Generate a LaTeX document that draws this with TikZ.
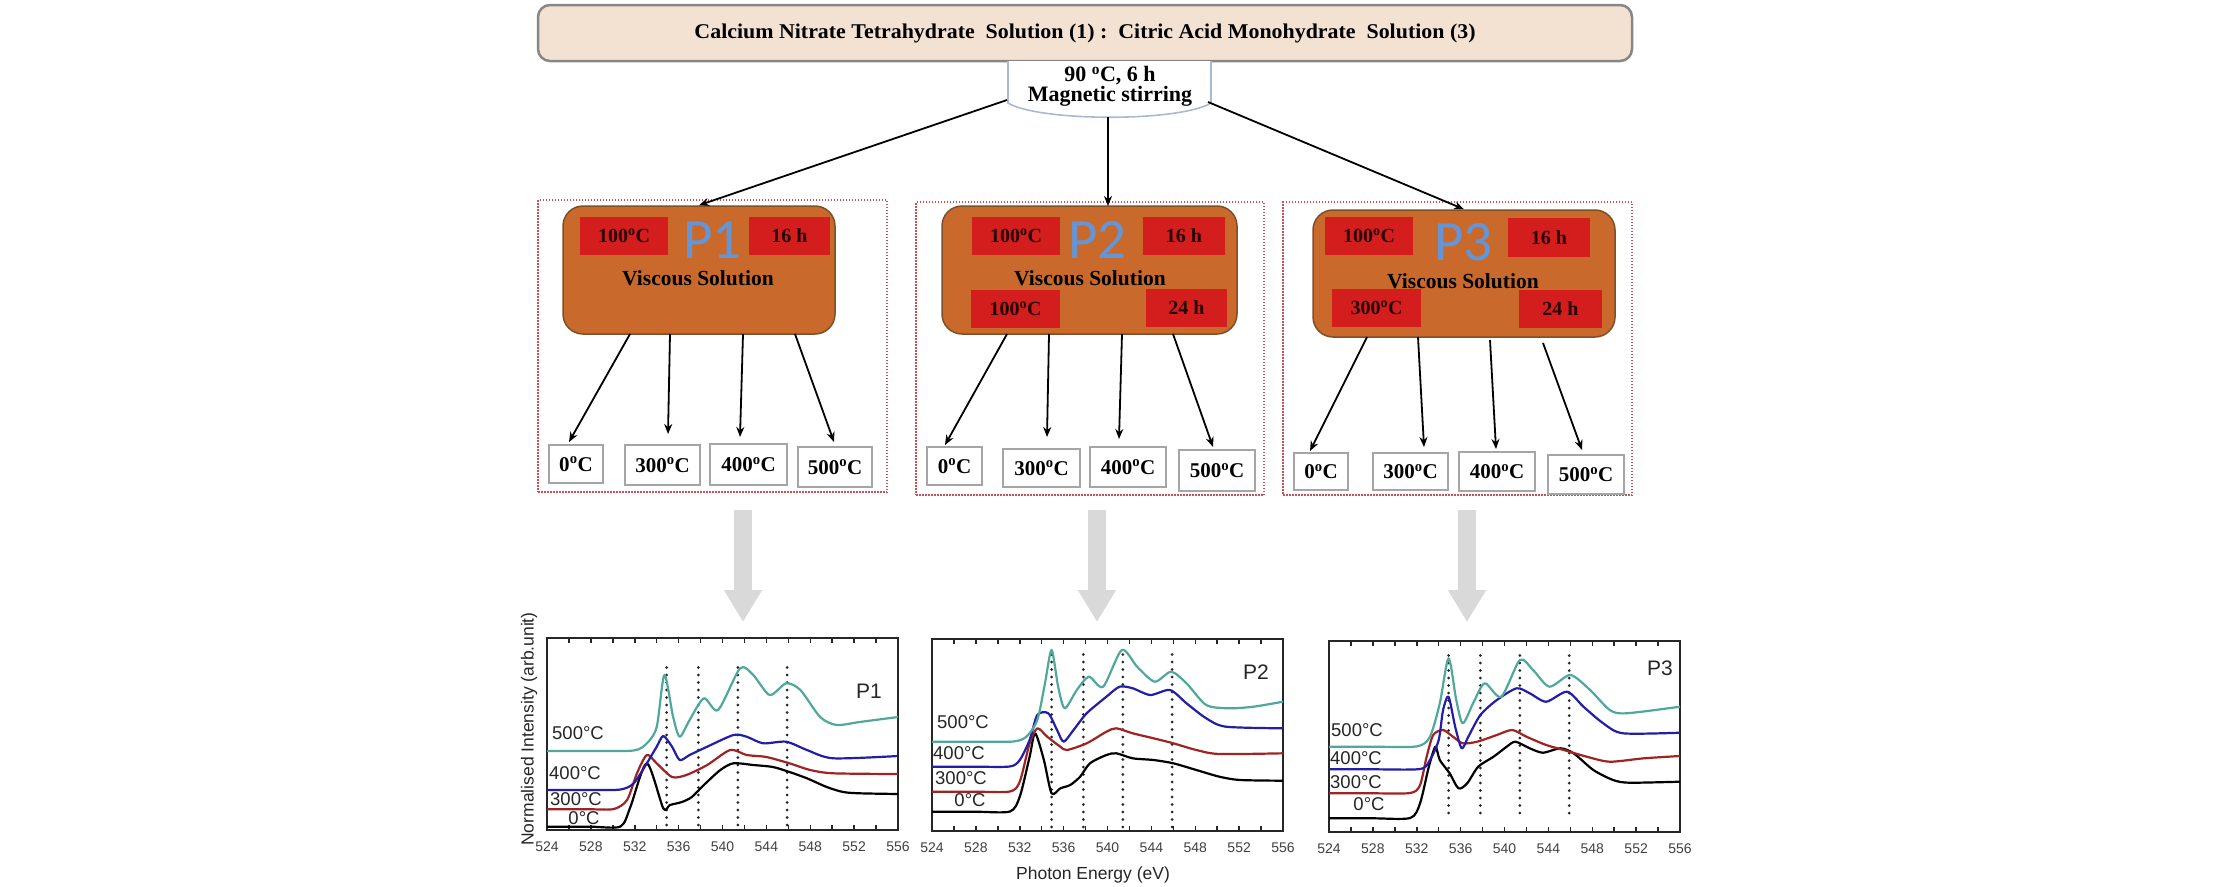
\documentclass[tikz,border=0pt]{standalone}
\usepackage{fontspec}
\usepackage{graphicx}
\setmainfont{Liberation Serif}
\newfontfamily\plotfont{Liberation Sans}
\newfontfamily\calfont{Carlito}
\usetikzlibrary{arrows.meta,calc}
\definecolor{bannerfill}{RGB}{243,226,210}
\definecolor{bannerline}{RGB}{135,135,135}
\definecolor{stirline}{RGB}{170,185,210}
\definecolor{orangefill}{RGB}{201,106,44}
\definecolor{orangeline}{RGB}{125,80,40}
\definecolor{redfill}{RGB}{212,30,30}
\definecolor{dashred}{RGB}{200,80,90}
\definecolor{boxgray}{RGB}{165,165,165}
\definecolor{arrgray}{RGB}{217,217,217}
\definecolor{pblue}{RGB}{100,150,215}
\definecolor{cteal}{RGB}{80,168,155}
\definecolor{cblue}{RGB}{35,30,165}
\definecolor{cred}{RGB}{160,35,35}
\tikzset{
  banner/.style={draw=bannerline, line width=2.5pt, fill=bannerfill, rounded corners=12pt, inner sep=0pt},
  orangebox/.style={draw=orangeline, line width=1.5pt, fill=orangefill, rounded corners=20pt, inner sep=0pt},
  redbox/.style={fill=redfill, inner sep=0pt, text=black!85!red, font=\bfseries\fontsize{20}{22}\selectfont},
  tempbox/.style={draw=boxgray, line width=2.2pt, fill=white, inner sep=0pt, font=\bfseries\fontsize{21}{23}\selectfont},
  dashbox/.style={draw=dashred, line width=1.2pt, dash pattern=on 1.5pt off 1.5pt, inner sep=0pt},
  ptext/.style={text=pblue, font=\calfont\fontsize{57}{59}\selectfont, inner sep=0pt, anchor=base, text depth=0pt},
  vstext/.style={font=\bfseries\fontsize{21.5}{24}\selectfont, inner sep=0pt, anchor=base, text height=14pt, text depth=0pt},
  arr/.style={line width=1.8pt, -{Stealth[length=10pt,width=8pt]}},
  bigarr/.style={draw=arrgray, line width=18pt, -{Triangle[length=32pt,width=36pt]}},
  frameline/.style={line width=1.5pt, black!85},
  ticklab/.style={font=\plotfont\fontsize{14}{15}\selectfont, text=black!75, inner sep=0pt},
  templab/.style={font=\plotfont\fontsize{18.5}{20}\selectfont, text=black!85, inner sep=0pt},
  axlab/.style={font=\plotfont\fontsize{17.5}{19}\selectfont, text=black!85, inner sep=0pt},
  plab/.style={font=\plotfont\fontsize{21}{23}\selectfont, text=black!85, inner sep=0pt},
  dotline/.style={line width=3pt, line cap=round, dash pattern=on 0pt off 7.5pt, black!85},
  curve/.style={line width=2.2pt, line join=round}
}
\newcommand\xasframe[4]{%
  \draw[frameline] (524,0) rectangle (556,#2);
  \foreach \t in {526,528,...,554}{
    \draw[frameline] (\t,0) -- ++(0,5);
    \draw[frameline] (\t,#2) -- ++(0,-5);
  }
  \foreach \t in {524,528,...,556}{
    \node[ticklab] (#1-\t) at (\t,-17) {\t};
  }
  \foreach \d in {534.9,537.8,541.4,545.9}{
    \draw[dotline] (\d,#3) -- (\d,#4);
  }
}
\begin{document}
\begin{tikzpicture}[x=1pt,y=-1pt]
\useasboundingbox[fill=white] (0,0) rectangle (2213,886);

% top banner
\node[banner, minimum width=1094pt, minimum height=56pt] (top) at (1085,33)
  {\resizebox{781pt}{\height}{\bfseries\fontsize{21}{24}\selectfont Calcium Nitrate Tetrahydrate\ \ Solution (1) :\ \ Citric Acid Monohydrate\ \ Solution (3)}};

% stirring box
\node[inner sep=0pt, minimum width=203pt, minimum height=56pt] (stir) at (1110,89) {};
\draw[stirline, line width=1.6pt, fill=white] (1008,61) -- (1008,103) .. controls (1040,122) and (1180,122) .. (1211,103) -- (1211,61);
\node[font=\bfseries\fontsize{22}{17}\selectfont, align=center, inner sep=0pt] (stirtext) at (1110,86.5)
  {90 \textsuperscript{o}C, 6 h\\Magnetic stirring};
\coordinate (stirL) at (1007,100);
\coordinate (stirB) at (1108,117);
\coordinate (stirR) at (1208,102);

% dashed panels
\node[dashbox, minimum width=349pt, minimum height=292pt] (d1) at (712.5,346) {};
\node[dashbox, minimum width=348pt, minimum height=293pt] (d2) at (1090,348.5) {};
\node[dashbox, minimum width=349pt, minimum height=293pt] (d3) at (1457.5,348.5) {};

% orange boxes
\node[orangebox, minimum width=272pt, minimum height=128pt] (o1) at (699,270) {};
\node[orangebox, minimum width=295pt, minimum height=128pt] (o2) at (1089.5,270) {};
\node[orangebox, minimum width=302pt, minimum height=127pt] (o3) at (1464,273.5) {};

% arrows from stirring
\coordinate (o2in) at (1108,206);
\draw[arr] (stirL) -- (o1.north);
\draw[arr] (stirB) -- (o2in);
\draw[arr] (stirR) -- (o3.north);

% red boxes
\node[redbox, minimum width=88pt, minimum height=38pt] (r11) at (624,236) {100\textsuperscript{o}C};
\node[redbox, minimum width=81pt, minimum height=38pt] (r12) at (789.5,236) {16 h};
\node[redbox, minimum width=88pt, minimum height=38pt] (r21) at (1016,236) {100\textsuperscript{o}C};
\node[redbox, minimum width=82pt, minimum height=38pt] (r22) at (1184,236) {16 h};
\node[redbox, minimum width=89pt, minimum height=38pt] (r23) at (1015.5,309) {100\textsuperscript{o}C};
\node[redbox, minimum width=81pt, minimum height=38pt] (r24) at (1186.5,308) {24 h};
\node[redbox, minimum width=88pt, minimum height=38pt] (r31) at (1369,236) {100\textsuperscript{o}C};
\node[redbox, minimum width=82pt, minimum height=39pt] (r32) at (1549,237.5) {16 h};
\node[redbox, minimum width=89pt, minimum height=38pt] (r33) at (1376.5,308) {300\textsuperscript{o}C};
\node[redbox, minimum width=83pt, minimum height=38pt] (r34) at (1560.5,309) {24 h};

% P labels and viscous
\node[ptext] (p1) at (712.5,258) {P1};
\node[ptext] (p2) at (1097.5,258) {P2};
\node[ptext] (p3) at (1463.5,260) {P3};
\node[vstext] (v1) at (698,285) {Viscous Solution};
\node[vstext] (v2) at (1090,285) {Viscous Solution};
\node[vstext] (v3) at (1463,288) {Viscous Solution};

% temperature boxes
\node[tempbox, minimum width=54pt, minimum height=38pt] (b11) at (576,464) {0\textsuperscript{o}C};
\node[tempbox, minimum width=75pt, minimum height=40pt] (b12) at (662.5,465) {300\textsuperscript{o}C};
\node[tempbox, minimum width=77pt, minimum height=41pt] (b13) at (748.5,464.5) {400\textsuperscript{o}C};
\node[tempbox, minimum width=74pt, minimum height=40pt] (b14) at (835,467) {500\textsuperscript{o}C};
\node[tempbox, minimum width=55pt, minimum height=38pt] (b21) at (954.5,466) {0\textsuperscript{o}C};
\node[tempbox, minimum width=77pt, minimum height=38pt] (b22) at (1041.5,468) {300\textsuperscript{o}C};
\node[tempbox, minimum width=76pt, minimum height=40pt] (b23) at (1128,467) {400\textsuperscript{o}C};
\node[tempbox, minimum width=76pt, minimum height=41pt] (b24) at (1217,470.5) {500\textsuperscript{o}C};
\node[tempbox, minimum width=54pt, minimum height=37pt] (b31) at (1321,471.5) {0\textsuperscript{o}C};
\node[tempbox, minimum width=75pt, minimum height=37pt] (b32) at (1410.5,471.5) {300\textsuperscript{o}C};
\node[tempbox, minimum width=76pt, minimum height=39pt] (b33) at (1497,471.5) {400\textsuperscript{o}C};
\node[tempbox, minimum width=76pt, minimum height=39pt] (b34) at (1586,474.5) {500\textsuperscript{o}C};

% arrows from orange boxes
\coordinate (s11) at (630,334);  \coordinate (e11) at (569,442);
\coordinate (s12) at (670,334);  \coordinate (e12) at (668,434);
\coordinate (s13) at (743,334);  \coordinate (e13) at (740,437);
\coordinate (s14) at (795,334);  \coordinate (e14) at (834,442);
\coordinate (s21) at (1007,334); \coordinate (e21) at (945,445);
\coordinate (s22) at (1049,334); \coordinate (e22) at (1047,437);
\coordinate (s23) at (1122,334); \coordinate (e23) at (1119,439);
\coordinate (s24) at (1173,334); \coordinate (e24) at (1213,447);
\coordinate (s31) at (1367,337); \coordinate (e31) at (1310,451);
\coordinate (s32) at (1418,337); \coordinate (e32) at (1424,447);
\coordinate (s33) at (1490,340); \coordinate (e33) at (1496,449);
\coordinate (s34) at (1543,343); \coordinate (e34) at (1582,450);
\foreach \p in {11,12,13,14,21,22,23,24,31,32,33,34}{
  \draw[arr] (s\p) -- (e\p);
}

% big gray arrows
\coordinate (g1s) at (743,510);  \coordinate (g1e) at (743,622);
\coordinate (g2s) at (1097,510); \coordinate (g2e) at (1097,622);
\coordinate (g3s) at (1467,510); \coordinate (g3e) at (1467,622);
\draw[bigarr] (g1s) -- (g1e);
\draw[bigarr] (g2s) -- (g2e);
\draw[bigarr] (g3s) -- (g3e);

% axis labels
\node[axlab, rotate=90] (ylab) at (529,729) {Normalised Intensity (arb.unit)};
\node[axlab] (xlab) at (1093,875) {Photon Energy (eV)};

% ---------- Plot P1 ----------
\begin{scope}[shift={(547,830)}, x=10.969pt, y=1pt, shift={(-524,0)}]
\xasframe{pa}{192}{5}{167}
\draw[curve, black] plot[smooth, tension=0.45] coordinates {(524,3.3) (528,3.3) (530.7,3.5) (531.6,23) (533.1,66.7) (534.6,21.7) (535.2,25) (536.3,28) (537.2,33) (538.3,45) (539.8,60) (541.0,66.7) (542.8,65) (544.6,63) (546.1,58) (547.7,51.7) (549.5,43) (551.0,38) (552.5,36.7) (556,36)};
\draw[curve, cred] plot[smooth, tension=0.45] coordinates {(524,20.7) (528,20.7) (530.1,21) (531.3,30) (532.2,56.7) (533.1,75) (534.0,66.7) (535.4,53) (536.7,55) (538.6,65) (540.7,80) (542.2,75) (544.0,73) (546.1,66.7) (548.0,60) (550.1,56.7) (556,56)};
\draw[curve, cblue] plot[smooth, tension=0.45] coordinates {(524,40) (528,40) (530.7,40.5) (531.9,46.7) (533.1,66.7) (534.0,83.3) (534.6,94) (535.4,83.3) (536.1,70) (537.0,75) (538.6,83.3) (541.0,95) (542.2,93.3) (543.7,86.7) (545.8,88.3) (547.7,80) (550.1,71.7) (556,74)};
\draw[curve, cteal] plot[smooth, tension=0.45] coordinates {(524,79) (528,79) (531.9,79.5) (533.1,86.7) (534.0,103) (534.7,155) (535.5,113) (536.1,93.3) (537.0,110) (538.3,131.7) (539.6,120) (541.6,161.7) (542.8,155) (544.3,135) (545.8,146.7) (547.1,140) (548.9,113) (550.4,105) (552.5,108) (556,113)};
\end{scope}
\node[templab] (l14) at (578,733) {500\textdegree C};
\node[templab] (l13) at (575,773) {400\textdegree C};
\node[templab] (l12) at (576,799) {300\textdegree C};
\node[templab] (l11) at (584,818) {0\textdegree C};
\node[plab] (pl1) at (869,691) {P1};

% ---------- Plot P2 ----------
\begin{scope}[shift={(932,831)}, x=10.969pt, y=1pt, shift={(-524,0)}]
\xasframe{pb}{192}{4}{181}
\draw[curve, black] plot[smooth, tension=0.45] coordinates {(524,19.3) (528,19.3) (531.1,19.5) (532.0,34.3) (532.9,74.3) (533.4,97.7) (534.2,71) (534.9,37.7) (535.7,42.7) (536.6,46) (537.5,54.3) (538.4,67.7) (539.9,76) (540.8,77.7) (542.3,72.7) (544.2,71) (546.0,67.7) (548.1,61) (550.2,54.3) (552.1,51) (556,50.3)};
\draw[curve, cred] plot[smooth, tension=0.45] coordinates {(524,39.3) (528,39.3) (531.1,39.5) (532.0,49.3) (532.9,87.7) (533.6,102.7) (534.5,94.3) (535.7,84.3) (536.3,81) (538.1,87.7) (539.9,99.3) (540.8,102.7) (542.3,97.7) (544.2,92.7) (546.0,87.7) (548.1,81) (550.2,77) (556,77.7)};
\draw[curve, cblue] plot[smooth, tension=0.45] coordinates {(524,64.3) (528,64.3) (531.1,64.5) (532.0,71) (532.9,91) (533.6,116) (534.6,117.7) (535.4,101) (536.0,89.3) (536.9,101) (538.1,117.7) (539.9,134.3) (541.1,144.3) (542.3,142.7) (543.9,136) (545.7,141) (547.2,127.7) (549.0,112.7) (550.8,104.3) (556,102.7)};
\draw[curve, cteal] plot[smooth, tension=0.45] coordinates {(524,89.3) (528,89.3) (531.4,89.5) (532.6,94.3) (533.6,111) (534.3,147.7) (534.9,181) (535.5,144.3) (536.1,122.7) (537.2,141) (538.3,154.3) (539.6,144.3) (541.3,181) (542.7,164.3) (544.3,149.3) (545.8,159.3) (547.2,147.7) (549.0,126) (551.1,122.7) (553.3,124.3) (556,129.3)};
\end{scope}
\node[templab] (l24) at (963,722) {500\textdegree C};
\node[templab] (l23) at (959,753) {400\textdegree C};
\node[templab] (l22) at (961,778) {300\textdegree C};
\node[templab] (l21) at (970,800) {0\textdegree C};
\node[plab] (pl2) at (1256,672) {P2};

% ---------- Plot P3 ----------
\begin{scope}[shift={(1329,832)}, x=10.969pt, y=1pt, shift={(-524,0)}]
\xasframe{pc}{191}{19}{180}
\draw[curve, black] plot[smooth, tension=0.45] coordinates {(524,13.7) (528,13.7) (531.4,14) (532.3,28.7) (533.1,65.3) (533.7,85.3) (534.1,72) (535.0,58.7) (535.8,43.7) (536.6,48.7) (537.6,65.3) (539.0,75.3) (540.2,85.3) (541.0,90.3) (542.3,83.7) (543.5,79.3) (545.1,83.7) (546.3,78.7) (548.1,62) (549.9,52) (551.4,49.3) (556,50.3)};
\draw[curve, cred] plot[smooth, tension=0.45] coordinates {(524,38.7) (528,38.7) (531.4,39) (532.3,47) (532.9,75.3) (533.5,97) (534.4,102) (535.3,95.3) (536.2,88.7) (537.5,90.3) (539.3,97) (540.7,102) (542.0,95.3) (543.8,87) (545.4,82) (547.5,75.3) (549.6,70.3) (552.7,73.7) (556,76)};
\draw[curve, cblue] plot[smooth, tension=0.45] coordinates {(524,62.7) (528,62.7) (532.3,63) (533.2,72) (534.0,92) (534.4,122) (534.9,135.3) (535.5,105.3) (536.1,83.7) (536.7,95.3) (537.8,117) (539.3,132) (541.1,143.7) (542.3,138.7) (543.8,130.3) (545.7,140.3) (547.2,125.3) (549.0,108.7) (550.8,98.7) (556,99.3)};
\draw[curve, cteal] plot[smooth, tension=0.45] coordinates {(524,85.3) (528,85.3) (532.0,85.6) (533.2,95.3) (534.1,128.7) (534.9,173.7) (535.6,132) (536.2,108.7) (537.2,130.3) (538.2,148.7) (539.7,135.3) (541.4,172) (542.6,162) (544.1,145.3) (546.0,157) (547.8,142) (549.6,122) (551.1,118.7) (556,125.3)};
\end{scope}
\node[templab] (l34) at (1357,730) {500\textdegree C};
\node[templab] (l33) at (1356,758) {400\textdegree C};
\node[templab] (l32) at (1356,782) {300\textdegree C};
\node[templab] (l31) at (1369,804) {0\textdegree C};
\node[plab] (pl3) at (1660,668) {P3};
\end{tikzpicture}
\end{document}
